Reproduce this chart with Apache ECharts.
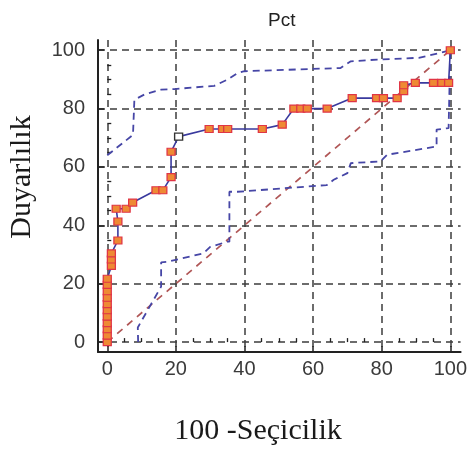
<!DOCTYPE html>
<html><head><meta charset="utf-8">
<script src="https://cdn.jsdelivr.net/npm/echarts@6/dist/echarts.min.js"></script>
<style>html,body{margin:0;padding:0;background:#fff}#c{width:470px;height:454px}</style>
</head><body><div id="c"></div>
<script>
const titleText = 'Pct';
const xName = '100 -Seçicilik';
const yName = 'Duyarlılık';
const majorTicks = [0, 20, 40, 60, 80, 100];
const minorTicks = [5, 10, 15, 25, 30, 35, 45, 50, 55, 65, 70, 75, 85, 90, 95];

// ROC curve (100 - specificity, sensitivity)
const rocX = [0, 0, 0, 0, 0, 0, 0, 0, 0, 0, 0,
  1.2, 1.2, 1.2, 3.1, 3.1, 2.6, 5.5, 7.4, 14.2, 16.2, 18.6, 18.6, 20.8,
  29.7, 33.6, 35.1, 45.2, 51, 54.4, 56.4, 58.3, 64.1, 71.4, 78.5, 80.5, 84.5,
  86.4, 86.4, 89.8, 95.1, 97.5, 99.5, 100];
const rocY = [0, 2.2, 4.4, 6.5, 8.7, 10.9, 13, 15.2, 17.4, 19.6, 21.7,
  26.1, 28.3, 30.4, 34.8, 41.3, 45.7, 45.7, 47.8, 52, 52, 56.5, 65.2, 70.4,
  73, 73, 73, 73, 74.5, 80, 80, 80, 80, 83.6, 83.6, 83.6, 83.6,
  86, 88, 88.8, 88.8, 88.8, 88.8, 100];
const openPointIndex = 23;

// upper confidence bound
const upperX = [0, 7.5, 7.9, 10.8, 15.7, 19.6, 31.2, 35, 38, 40, 68, 71, 78.7, 90.8, 97.1, 100];
const upperY = [64, 71, 83, 84.8, 86.5, 86.7, 87.8, 89.9, 92.2, 92.8, 93.9, 96.2, 96.8, 97.4, 99.1, 100];

// lower confidence bound
const lowerX = [9, 8.9, 15.7, 15.7, 17.6, 28, 30, 35, 35.6, 35.6, 38, 64, 66, 70, 71, 79.6, 81.6, 96, 96, 99.5, 100];
const lowerY = [0, 5, 19, 27.3, 27.5, 30.4, 32.6, 34.4, 34.4, 51.5, 51.5, 53.8, 55.6, 57.9, 61.3, 61.9, 64.2, 67, 72.8, 73.3, 100];

// diagonal reference
const diagX = [0, 100];
const diagY = [0, 100];

function pairs(xs, ys) { return xs.map((x, i) => [x, ys[i]]); }

const rocData = pairs(rocX, rocY).map((p, i) => i === openPointIndex
  ? { value: p, itemStyle: { color: '#ffffff', borderColor: '#333333', borderWidth: 1.3 } }
  : { value: p });

const labelStyle = { fontSize: 20, color: '#3a3a3a', fontFamily: 'Liberation Sans' };
const gridLine = { show: true, showMinLine: true, showMaxLine: true, lineStyle: { color: '#3c3c3c', type: [7, 5], width: 1.5 } };

const chart = echarts.init(document.getElementById('c'), null, { renderer: 'canvas' });
chart.setOption({
  animation: false,
  backgroundColor: '#ffffff',
  title: { text: titleText, left: 263, top: 6, textStyle: { fontSize: 19, fontWeight: 'normal', color: '#222', fontFamily: 'Liberation Sans' } },
  grid: { left: 98, right: 8, top: 40, bottom: 102, containLabel: false },
  xAxis: [
    { type: 'value', min: -2.7, max: 103, position: 'bottom',
      axisLine: { show: true, onZero: false, lineStyle: { color: '#222', width: 2 } },
      axisTick: { show: true, inside: true, length: 6, customValues: majorTicks, lineStyle: { color: '#222', width: 1.5 } },
      axisLabel: Object.assign({ customValues: majorTicks, margin: 7 }, labelStyle),
      splitLine: gridLine },
    { type: 'value', min: -2.7, max: 103, position: 'bottom',
      axisLine: { show: false },
      axisTick: { show: true, inside: true, length: 4, customValues: minorTicks, lineStyle: { color: '#222', width: 1.3 } },
      axisLabel: { show: false }, splitLine: { show: false } }
  ],
  yAxis: [
    { type: 'value', min: -3.4, max: 103.5, position: 'left',
      axisLine: { show: true, onZero: false, lineStyle: { color: '#222', width: 2 } },
      axisTick: { show: true, inside: true, length: 6, customValues: majorTicks, lineStyle: { color: '#222', width: 1.5 } },
      axisLabel: Object.assign({ customValues: majorTicks, margin: 13 }, labelStyle),
      splitLine: gridLine },
    { type: 'value', min: -3.4, max: 103.5, position: 'left',
      axisLine: { show: false },
      axisTick: { show: true, inside: true, length: 4, customValues: minorTicks, lineStyle: { color: '#222', width: 1.3 } },
      axisLabel: { show: false }, splitLine: { show: false } }
  ],
  graphic: [
    { type: 'text', x: 22, y: 177, rotation: Math.PI / 2,
      style: { text: yName, fontSize: 30, fontFamily: 'Liberation Serif', fill: '#1a1a1a', align: 'center', verticalAlign: 'middle' } },
    { type: 'text', x: 258, y: 431,
      style: { text: xName, fontSize: 30, fontFamily: 'Liberation Serif', fill: '#1a1a1a', align: 'center', verticalAlign: 'middle' } }
  ],
  series: [
    { type: 'line', data: pairs(diagX, diagY), symbol: 'none', silent: true, z: 2,
      lineStyle: { color: '#b05656', width: 1.7, type: [7, 6] } },
    { type: 'line', data: pairs(upperX, upperY), symbol: 'none', silent: true, z: 2,
      lineStyle: { color: '#4646a6', width: 1.8, type: [7, 5] } },
    { type: 'line', data: pairs(lowerX, lowerY), symbol: 'none', silent: true, z: 2,
      lineStyle: { color: '#4646a6', width: 1.8, type: [7, 5] } },
    { type: 'line', data: rocData, symbol: 'rect', symbolSize: [8, 7], z: 5,
      lineStyle: { color: '#3a3a9e', width: 1.6 },
      itemStyle: { color: '#ee8a34', borderColor: '#e03545', borderWidth: 1.2 } }
  ]
});
</script></body></html>
